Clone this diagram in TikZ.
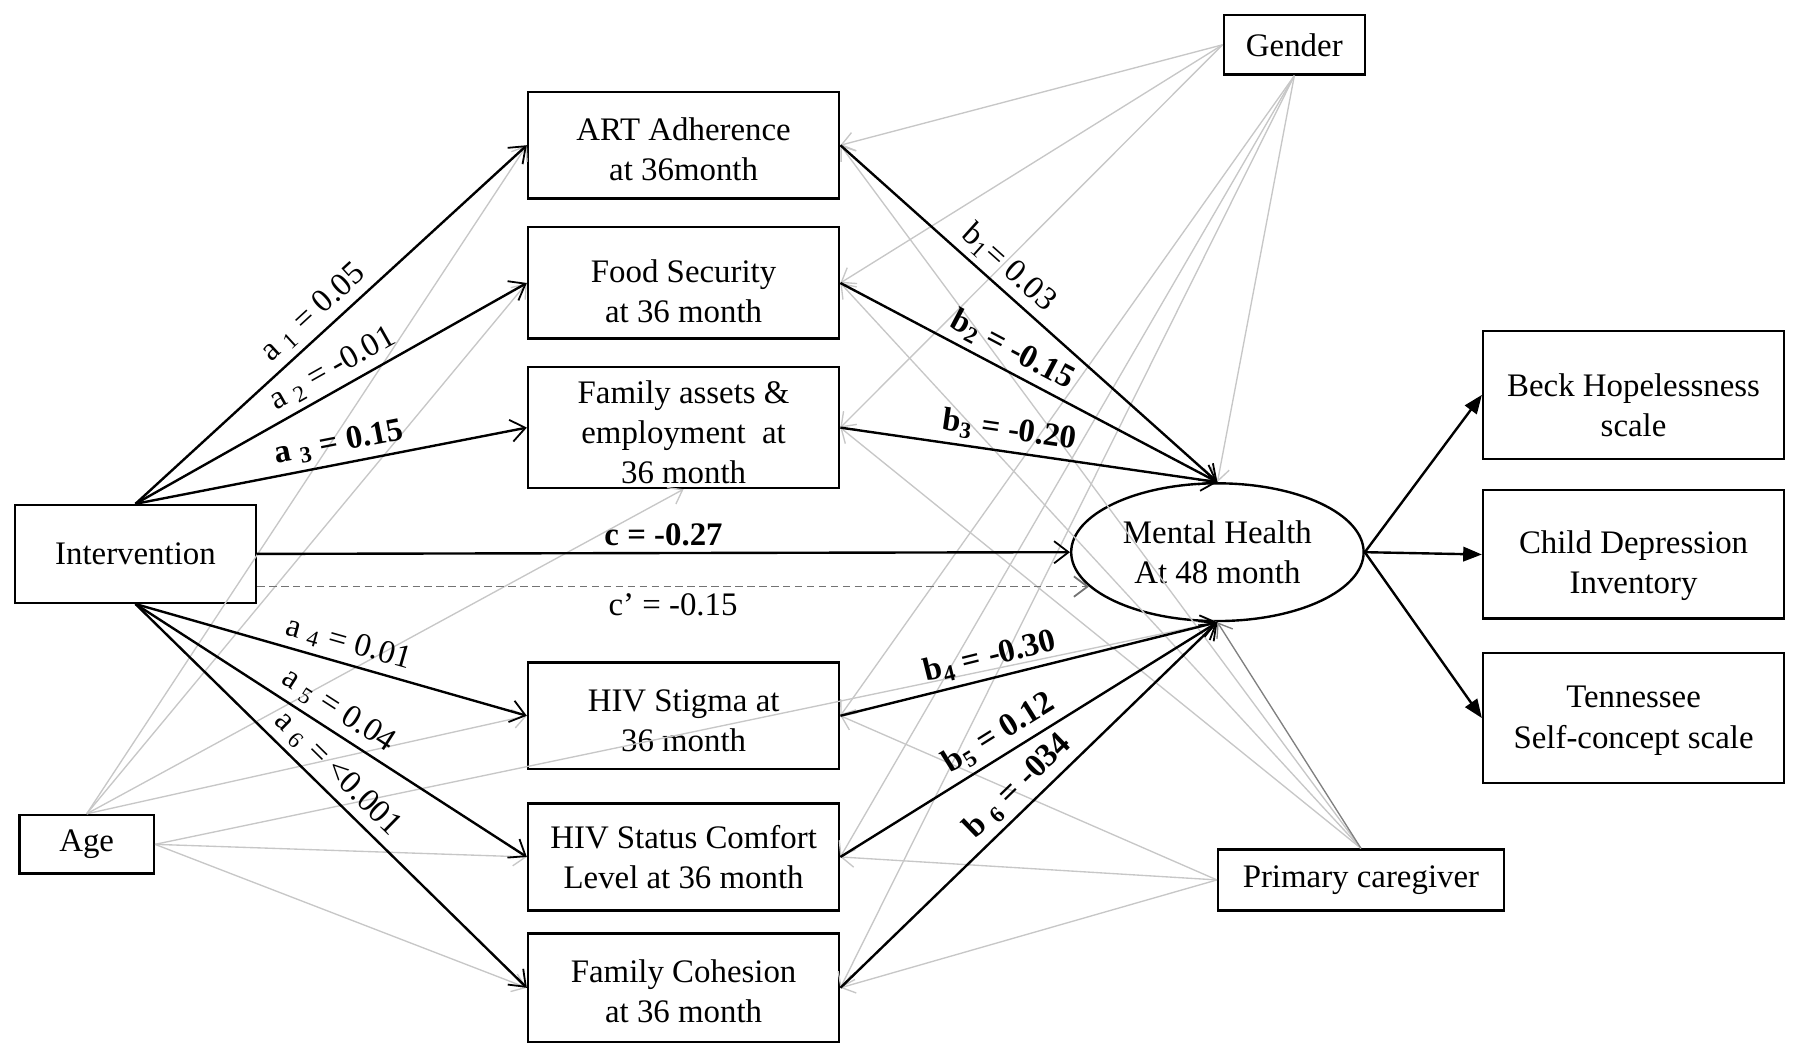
\documentclass[tikz,border=0pt]{standalone}
\usepackage{fontspec}
\setmainfont{Liberation Serif}
\usetikzlibrary{arrows.meta,shapes.geometric,calc}
\newcommand\tgap[1]{\rule{0pt}{#1}}
\begin{document}
\begin{tikzpicture}[x=0.0135cm,y=-0.0135cm,
  font=\fontsize{11}{13.4}\selectfont,
  box/.style={draw,line width=0.8pt,align=center,inner sep=0pt},
  medbox/.style={box,minimum width=3.66cm},
  outbox/.style={box,minimum width=3.54cm},
  blk/.style={line width=0.8pt,-{Straight Barb[length=1.7mm,width=2.6mm,line width=0.6pt]}},
  blkf/.style={line width=0.8pt,-{Triangle[length=2.2mm,width=1.7mm]}},
  gry/.style={line width=0.45pt,draw=black!22,-{Straight Barb[length=1.5mm,width=2.2mm]}},
  dsh/.style={line width=0.6pt,draw=black!55,dash pattern=on 2.5pt off 1.5pt,-{Straight Barb[length=1.6mm,width=2.4mm]}},
  lab/.style={sloped,above,inner sep=2pt,font=\fontsize{11}{13}\selectfont},
  blab/.style={lab,font=\fontsize{11}{13}\selectfont\bfseries}
]
\useasboundingbox (0,0) rectangle (1568,916);

% nodes
\node[medbox,minimum height=1.256cm] (ART)  at (595.5,126.5) {\tgap{10.6pt}ART Adherence\\ at 36month};
\node[medbox,minimum height=1.31cm]  (Food) at (595.5,246.5) {\tgap{12.9pt}Food Security\\ at 36 month};
\node[medbox,minimum height=1.42cm]  (Fam)  at (595.5,372.5) {\tgap{10.6pt}Family assets \&\\employment~ at\\36 month};
\node[medbox,minimum height=1.256cm] (HIVS) at (595.5,623.5) {\tgap{10.6pt}HIV Stigma at\\36 month};
\node[medbox,minimum height=1.256cm] (HIVC) at (595.5,746.5) {HIV Status Comfort\\Level at 36 month};
\node[medbox,minimum height=1.28cm]  (FC)   at (595.5,860.5) {\tgap{9.8pt}Family Cohesion\\at 36 month};
\node[box,minimum width=2.835cm,minimum height=1.15cm] (Int) at (118,482.5) {Intervention};
\node[box,minimum width=1.58cm,minimum height=0.69cm] (Age) at (75.5,735.5) {Age};
\node[box,minimum width=1.66cm,minimum height=0.70cm] (Gen) at (1127.5,39) {Gender};
\node[box,minimum width=3.36cm,minimum height=0.716cm] (CG) at (1185.5,766.5) {Primary caregiver};
\node[outbox,minimum height=1.51cm]  (Beck) at (1423,344) {\tgap{14.4pt}Beck Hopelessness\\scale};
\node[outbox,minimum height=1.51cm]  (CDI)  at (1423,483) {\tgap{15.2pt}Child Depression\\Inventory};
\node[outbox,minimum height=1.525cm] (TSC)  at (1423,625.5) {\tgap{9pt}Tennessee\\Self-concept scale};
\node[ellipse,draw,line width=0.8pt,minimum width=3.44cm,minimum height=1.62cm,inner sep=0pt,align=center] (MH) at (1060.5,481) {Mental Health\\At 48 month};

% grey covariate paths
\foreach \t in {ART,Food,Fam} \draw[gry] (Gen.west) -- (\t.east);
\foreach \t in {HIVS,HIVC,FC} \draw[gry] (Gen.south) -- (\t.east);
\draw[gry] (Gen.south) -- (MH.north);
\foreach \t in {ART,Food} \draw[gry] (Age.north) -- (\t.west);
\draw[gry] (Age.north) -- (Fam.south);
\draw[gry] (Age.north) -- (HIVS.west);
\draw[gry] (Age.east) -- (MH.south);
\foreach \t in {HIVC,FC} \draw[gry] (Age.east) -- (\t.west);
\foreach \t in {ART,Food,Fam} \draw[gry] (CG.north) -- (\t.east);
\draw[gry,draw=black!50] (CG.north) -- (MH.south);
\foreach \t in {HIVS,HIVC,FC} \draw[gry] (CG.west) -- (\t.east);

% a paths
\draw[blk] (Int.north) -- node[lab,pos=.49]{a \textsubscript{1} = 0.05} (ART.west);
\draw[blk] (Int.north) -- node[lab,pos=.53]{a \textsubscript{2} = -0.01} (Food.west);
\draw[blk] (Int.north) -- node[blab,pos=.53]{a \textsubscript{3} = 0.15} (Fam.west);
\draw[blk] (Int.south) -- node[lab,pos=.53]{a \textsubscript{4} = 0.01} (HIVS.west);
\draw[blk] (Int.south) -- node[lab,pos=.49]{a \textsubscript{5} = 0.04} (HIVC.west);
\draw[blk] (Int.south) -- node[lab,pos=.48]{a \textsubscript{6} = <0.001} (FC.west);

% c paths
\draw[blk] (Int.east) -- node[blab,pos=.5]{c = -0.27} (MH.west);
\draw[dsh] (Int.east |- MH.195) -- node[lab,below,pos=.5]{c’ = -0.15} (MH.195);

% b paths
\draw[blk] (ART.east)  -- node[lab,pos=.41]{b\textsubscript{1}= 0.03} (MH.north);
\draw[blk] (Food.east) -- node[blab,pos=.43]{b\textsubscript{2} = -0.15} (MH.north);
\draw[blk] (Fam.east)  -- node[blab,pos=.44]{b\textsubscript{3} = -0.20} (MH.north);
\draw[blk] (HIVS.east) -- node[blab,pos=.41]{b\textsubscript{4} = -0.30} (MH.south);
\draw[blk] (HIVC.east) -- node[blab,pos=.45]{b\textsubscript{5} = 0.12} (MH.south);
\draw[blk] (FC.east)   -- node[blab,pos=.51]{b \textsubscript{6} = -034} (MH.south);

% indicators
\draw[blkf] (MH.east) -- (Beck.west);
\draw[blkf] (MH.east) -- (CDI.west);
\draw[blkf] (MH.east) -- (TSC.west);
\end{tikzpicture}
\end{document}
